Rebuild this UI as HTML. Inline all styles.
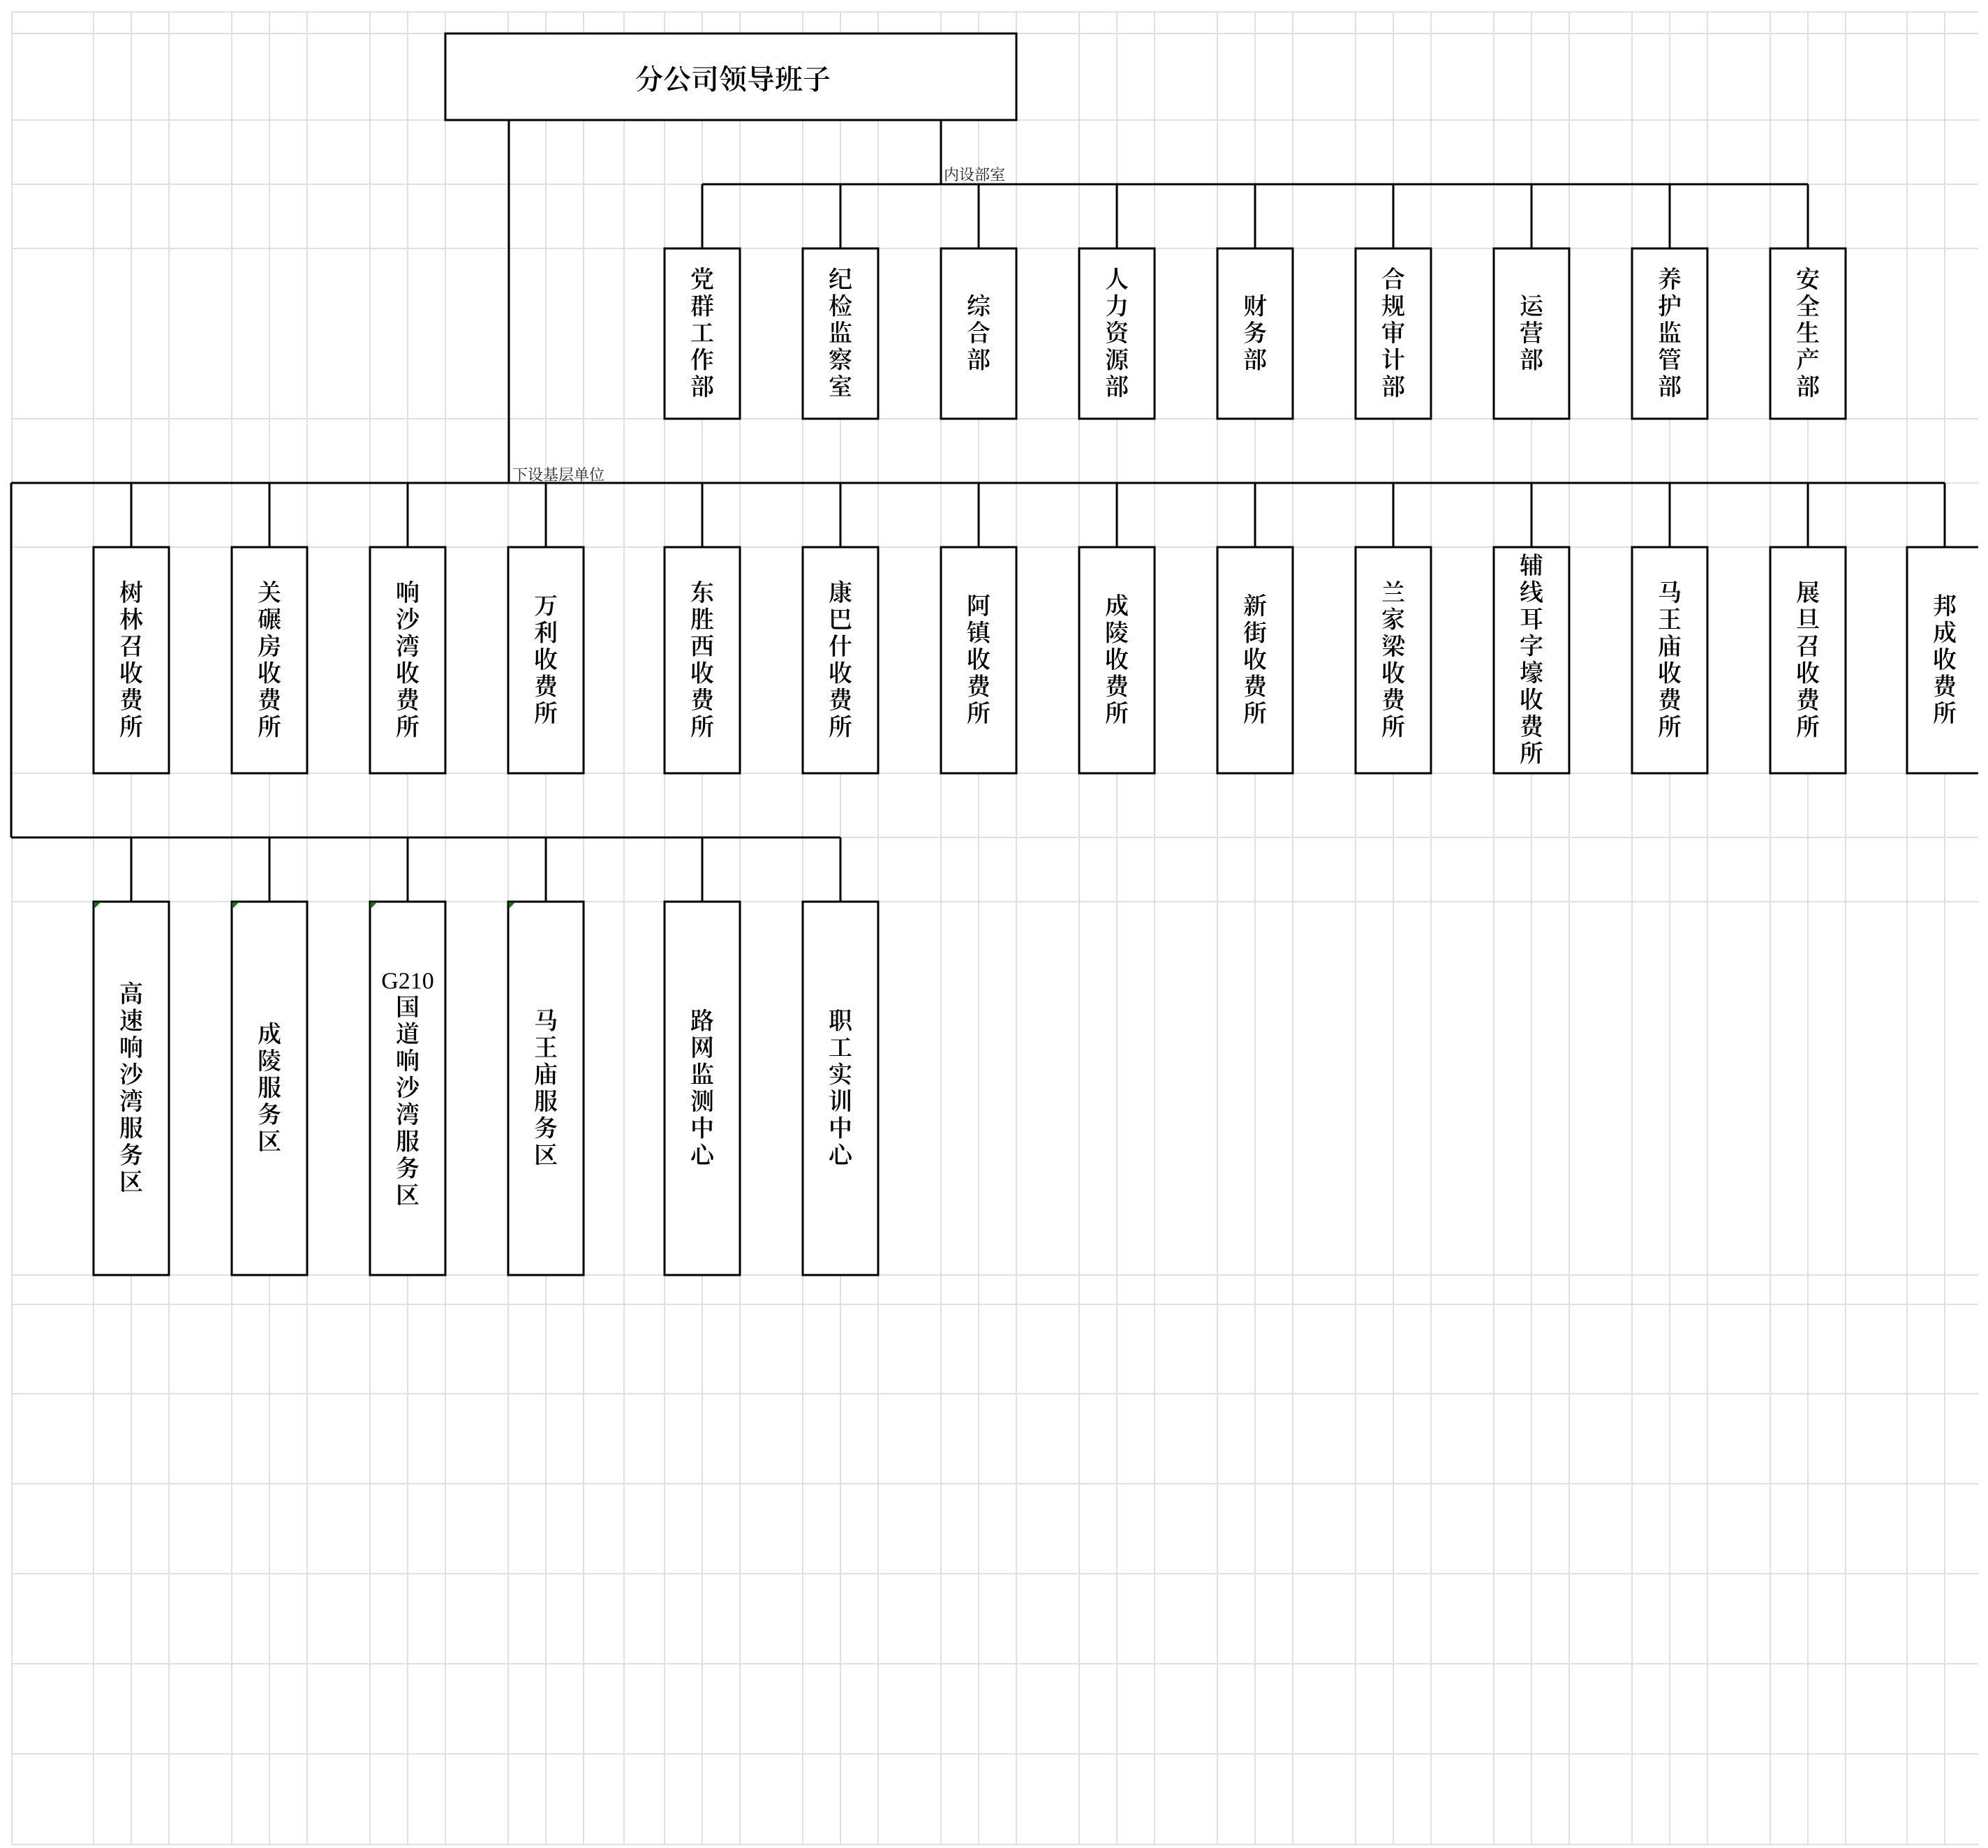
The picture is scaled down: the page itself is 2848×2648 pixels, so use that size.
<!DOCTYPE html>
<html><head><meta charset="utf-8">
<style>
html,body{margin:0;padding:0;background:#fff;}
svg{display:block;}
.t{font-family:"Liberation Serif","Noto Serif CJK SC",serif;font-size:34px;font-weight:600;fill:#000;text-anchor:middle;dominant-baseline:central;}
.s{font-family:"Liberation Serif","Noto Serif CJK SC",serif;font-size:22px;fill:#222;}
.b{fill:#fff;stroke:#000;stroke-width:3;}
.c{stroke:#000;stroke-width:3;fill:none;}
.g{stroke:#e0e0e0;stroke-width:2;}
</style></head><body>
<svg width="2848" height="2648" viewBox="0 0 2848 2648" xmlns="http://www.w3.org/2000/svg">
<defs><clipPath id="cp"><rect x="0" y="0" width="2834" height="2648"/></clipPath></defs>
<g clip-path="url(#cp)">
<g class="g">
<line x1="17" y1="17" x2="2834" y2="17"/><line x1="17" y1="48" x2="2834" y2="48"/><line x1="17" y1="172" x2="2834" y2="172"/><line x1="17" y1="264" x2="2834" y2="264"/><line x1="17" y1="356" x2="2834" y2="356"/><line x1="17" y1="600" x2="2834" y2="600"/><line x1="17" y1="692" x2="2834" y2="692"/><line x1="17" y1="784" x2="2834" y2="784"/><line x1="17" y1="1108" x2="2834" y2="1108"/><line x1="17" y1="1200" x2="2834" y2="1200"/><line x1="17" y1="1292" x2="2834" y2="1292"/><line x1="17" y1="1827" x2="2834" y2="1827"/><line x1="17" y1="1869" x2="2834" y2="1869"/><line x1="17" y1="1997" x2="2834" y2="1997"/><line x1="17" y1="2126" x2="2834" y2="2126"/><line x1="17" y1="2255" x2="2834" y2="2255"/><line x1="17" y1="2384" x2="2834" y2="2384"/><line x1="17" y1="2513" x2="2834" y2="2513"/><line x1="17" y1="2643" x2="2834" y2="2643"/>
</g>
<g class="g">
<line x1="17" y1="17" x2="17" y2="2643"/>
<line x1="134" y1="17" x2="134" y2="2643"/><line x1="188" y1="17" x2="188" y2="2643"/><line x1="242" y1="17" x2="242" y2="2643"/>
<line x1="332" y1="17" x2="332" y2="2643"/><line x1="386" y1="17" x2="386" y2="2643"/><line x1="440" y1="17" x2="440" y2="2643"/>
<line x1="530" y1="17" x2="530" y2="2643"/><line x1="584" y1="17" x2="584" y2="2643"/><line x1="638" y1="17" x2="638" y2="2643"/>
<line x1="728" y1="17" x2="728" y2="2643"/><line x1="782" y1="17" x2="782" y2="2643"/><line x1="836" y1="17" x2="836" y2="2643"/>
<line x1="894" y1="17" x2="894" y2="2643"/>
<line x1="952" y1="17" x2="952" y2="2643"/><line x1="1006" y1="17" x2="1006" y2="2643"/><line x1="1060" y1="17" x2="1060" y2="2643"/>
<line x1="1150" y1="17" x2="1150" y2="2643"/><line x1="1204" y1="17" x2="1204" y2="2643"/><line x1="1258" y1="17" x2="1258" y2="2643"/>
<line x1="1348" y1="17" x2="1348" y2="2643"/><line x1="1402" y1="17" x2="1402" y2="2643"/><line x1="1456" y1="17" x2="1456" y2="2643"/>
<line x1="1546" y1="17" x2="1546" y2="2643"/><line x1="1600" y1="17" x2="1600" y2="2643"/><line x1="1654" y1="17" x2="1654" y2="2643"/>
<line x1="1744" y1="17" x2="1744" y2="2643"/><line x1="1798" y1="17" x2="1798" y2="2643"/><line x1="1852" y1="17" x2="1852" y2="2643"/>
<line x1="1942" y1="17" x2="1942" y2="2643"/><line x1="1996" y1="17" x2="1996" y2="2643"/><line x1="2050" y1="17" x2="2050" y2="2643"/>
<line x1="2140" y1="17" x2="2140" y2="2643"/><line x1="2194" y1="17" x2="2194" y2="2643"/><line x1="2248" y1="17" x2="2248" y2="2643"/>
<line x1="2338" y1="17" x2="2338" y2="2643"/><line x1="2392" y1="17" x2="2392" y2="2643"/><line x1="2446" y1="17" x2="2446" y2="2643"/>
<line x1="2536" y1="17" x2="2536" y2="2643"/><line x1="2590" y1="17" x2="2590" y2="2643"/><line x1="2644" y1="17" x2="2644" y2="2643"/>
<line x1="2732" y1="17" x2="2732" y2="2643"/><line x1="2786" y1="17" x2="2786" y2="2643"/>
</g>

<g class="c">
<line x1="729" y1="172" x2="729" y2="692"/>
<line x1="1348" y1="172" x2="1348" y2="264"/>
<line x1="1006" y1="264" x2="2590" y2="264"/>
<line x1="1006" y1="264" x2="1006" y2="356"/><line x1="1204" y1="264" x2="1204" y2="356"/><line x1="1402" y1="264" x2="1402" y2="356"/><line x1="1600" y1="264" x2="1600" y2="356"/><line x1="1798" y1="264" x2="1798" y2="356"/><line x1="1996" y1="264" x2="1996" y2="356"/><line x1="2194" y1="264" x2="2194" y2="356"/><line x1="2392" y1="264" x2="2392" y2="356"/><line x1="2590" y1="264" x2="2590" y2="356"/>
<line x1="16" y1="692" x2="2786" y2="692"/>
<line x1="188" y1="692" x2="188" y2="784"/><line x1="386" y1="692" x2="386" y2="784"/><line x1="584" y1="692" x2="584" y2="784"/><line x1="782" y1="692" x2="782" y2="784"/>
<line x1="1006" y1="692" x2="1006" y2="784"/><line x1="1204" y1="692" x2="1204" y2="784"/><line x1="1402" y1="692" x2="1402" y2="784"/><line x1="1600" y1="692" x2="1600" y2="784"/><line x1="1798" y1="692" x2="1798" y2="784"/><line x1="1996" y1="692" x2="1996" y2="784"/><line x1="2194" y1="692" x2="2194" y2="784"/><line x1="2392" y1="692" x2="2392" y2="784"/><line x1="2590" y1="692" x2="2590" y2="784"/><line x1="2786" y1="692" x2="2786" y2="784"/>
<line x1="16" y1="692" x2="16" y2="1200"/>
<line x1="16" y1="1200" x2="1204" y2="1200"/>
<line x1="188" y1="1200" x2="188" y2="1292"/><line x1="386" y1="1200" x2="386" y2="1292"/><line x1="584" y1="1200" x2="584" y2="1292"/><line x1="782" y1="1200" x2="782" y2="1292"/><line x1="1006" y1="1200" x2="1006" y2="1292"/><line x1="1204" y1="1200" x2="1204" y2="1292"/>
</g>

<text class="s" x="1352" y="258">内设部室</text>
<text class="s" x="734" y="688">下设基层单位</text>

<rect class="b" x="638" y="48" width="818" height="124"/>
<text class="t" x="1050" y="114" style="font-size:40px">分公司领导班子</text>

<rect class="b" x="952" y="356" width="108" height="244"/>
<text class="t" x="1006" y="401"><tspan x="1006">党</tspan><tspan x="1006" dy="38.5">群</tspan><tspan x="1006" dy="38.5">工</tspan><tspan x="1006" dy="38.5">作</tspan><tspan x="1006" dy="38.5">部</tspan></text>
<rect class="b" x="1150" y="356" width="108" height="244"/>
<text class="t" x="1204" y="401"><tspan x="1204">纪</tspan><tspan x="1204" dy="38.5">检</tspan><tspan x="1204" dy="38.5">监</tspan><tspan x="1204" dy="38.5">察</tspan><tspan x="1204" dy="38.5">室</tspan></text>
<rect class="b" x="1348" y="356" width="108" height="244"/>
<text class="t" x="1402" y="439.5"><tspan x="1402">综</tspan><tspan x="1402" dy="38.5">合</tspan><tspan x="1402" dy="38.5">部</tspan></text>
<rect class="b" x="1546" y="356" width="108" height="244"/>
<text class="t" x="1600" y="401"><tspan x="1600">人</tspan><tspan x="1600" dy="38.5">力</tspan><tspan x="1600" dy="38.5">资</tspan><tspan x="1600" dy="38.5">源</tspan><tspan x="1600" dy="38.5">部</tspan></text>
<rect class="b" x="1744" y="356" width="108" height="244"/>
<text class="t" x="1798" y="439.5"><tspan x="1798">财</tspan><tspan x="1798" dy="38.5">务</tspan><tspan x="1798" dy="38.5">部</tspan></text>
<rect class="b" x="1942" y="356" width="108" height="244"/>
<text class="t" x="1996" y="401"><tspan x="1996">合</tspan><tspan x="1996" dy="38.5">规</tspan><tspan x="1996" dy="38.5">审</tspan><tspan x="1996" dy="38.5">计</tspan><tspan x="1996" dy="38.5">部</tspan></text>
<rect class="b" x="2140" y="356" width="108" height="244"/>
<text class="t" x="2194" y="439.5"><tspan x="2194">运</tspan><tspan x="2194" dy="38.5">营</tspan><tspan x="2194" dy="38.5">部</tspan></text>
<rect class="b" x="2338" y="356" width="108" height="244"/>
<text class="t" x="2392" y="401"><tspan x="2392">养</tspan><tspan x="2392" dy="38.5">护</tspan><tspan x="2392" dy="38.5">监</tspan><tspan x="2392" dy="38.5">管</tspan><tspan x="2392" dy="38.5">部</tspan></text>
<rect class="b" x="2536" y="356" width="108" height="244"/>
<text class="t" x="2590" y="401"><tspan x="2590">安</tspan><tspan x="2590" dy="38.5">全</tspan><tspan x="2590" dy="38.5">生</tspan><tspan x="2590" dy="38.5">产</tspan><tspan x="2590" dy="38.5">部</tspan></text>

<rect class="b" x="134" y="784" width="108" height="324"/>
<text class="t" x="188" y="849.75"><tspan x="188">树</tspan><tspan x="188" dy="38.5">林</tspan><tspan x="188" dy="38.5">召</tspan><tspan x="188" dy="38.5">收</tspan><tspan x="188" dy="38.5">费</tspan><tspan x="188" dy="38.5">所</tspan></text>
<rect class="b" x="332" y="784" width="108" height="324"/>
<text class="t" x="386" y="849.75"><tspan x="386">关</tspan><tspan x="386" dy="38.5">碾</tspan><tspan x="386" dy="38.5">房</tspan><tspan x="386" dy="38.5">收</tspan><tspan x="386" dy="38.5">费</tspan><tspan x="386" dy="38.5">所</tspan></text>
<rect class="b" x="530" y="784" width="108" height="324"/>
<text class="t" x="584" y="849.75"><tspan x="584">响</tspan><tspan x="584" dy="38.5">沙</tspan><tspan x="584" dy="38.5">湾</tspan><tspan x="584" dy="38.5">收</tspan><tspan x="584" dy="38.5">费</tspan><tspan x="584" dy="38.5">所</tspan></text>
<rect class="b" x="728" y="784" width="108" height="324"/>
<text class="t" x="782" y="869"><tspan x="782">万</tspan><tspan x="782" dy="38.5">利</tspan><tspan x="782" dy="38.5">收</tspan><tspan x="782" dy="38.5">费</tspan><tspan x="782" dy="38.5">所</tspan></text>
<rect class="b" x="952" y="784" width="108" height="324"/>
<text class="t" x="1006" y="849.75"><tspan x="1006">东</tspan><tspan x="1006" dy="38.5">胜</tspan><tspan x="1006" dy="38.5">西</tspan><tspan x="1006" dy="38.5">收</tspan><tspan x="1006" dy="38.5">费</tspan><tspan x="1006" dy="38.5">所</tspan></text>
<rect class="b" x="1150" y="784" width="108" height="324"/>
<text class="t" x="1204" y="849.75"><tspan x="1204">康</tspan><tspan x="1204" dy="38.5">巴</tspan><tspan x="1204" dy="38.5">什</tspan><tspan x="1204" dy="38.5">收</tspan><tspan x="1204" dy="38.5">费</tspan><tspan x="1204" dy="38.5">所</tspan></text>
<rect class="b" x="1348" y="784" width="108" height="324"/>
<text class="t" x="1402" y="869"><tspan x="1402">阿</tspan><tspan x="1402" dy="38.5">镇</tspan><tspan x="1402" dy="38.5">收</tspan><tspan x="1402" dy="38.5">费</tspan><tspan x="1402" dy="38.5">所</tspan></text>
<rect class="b" x="1546" y="784" width="108" height="324"/>
<text class="t" x="1600" y="869"><tspan x="1600">成</tspan><tspan x="1600" dy="38.5">陵</tspan><tspan x="1600" dy="38.5">收</tspan><tspan x="1600" dy="38.5">费</tspan><tspan x="1600" dy="38.5">所</tspan></text>
<rect class="b" x="1744" y="784" width="108" height="324"/>
<text class="t" x="1798" y="869"><tspan x="1798">新</tspan><tspan x="1798" dy="38.5">街</tspan><tspan x="1798" dy="38.5">收</tspan><tspan x="1798" dy="38.5">费</tspan><tspan x="1798" dy="38.5">所</tspan></text>
<rect class="b" x="1942" y="784" width="108" height="324"/>
<text class="t" x="1996" y="849.75"><tspan x="1996">兰</tspan><tspan x="1996" dy="38.5">家</tspan><tspan x="1996" dy="38.5">梁</tspan><tspan x="1996" dy="38.5">收</tspan><tspan x="1996" dy="38.5">费</tspan><tspan x="1996" dy="38.5">所</tspan></text>
<rect class="b" x="2140" y="784" width="108" height="324"/>
<text class="t" x="2194" y="811"><tspan x="2194">辅</tspan><tspan x="2194" dy="38.5">线</tspan><tspan x="2194" dy="38.5">耳</tspan><tspan x="2194" dy="38.5">字</tspan><tspan x="2194" dy="38.5">壕</tspan><tspan x="2194" dy="38.5">收</tspan><tspan x="2194" dy="38.5">费</tspan><tspan x="2194" dy="38.5">所</tspan></text>
<rect class="b" x="2338" y="784" width="108" height="324"/>
<text class="t" x="2392" y="849.75"><tspan x="2392">马</tspan><tspan x="2392" dy="38.5">王</tspan><tspan x="2392" dy="38.5">庙</tspan><tspan x="2392" dy="38.5">收</tspan><tspan x="2392" dy="38.5">费</tspan><tspan x="2392" dy="38.5">所</tspan></text>
<rect class="b" x="2536" y="784" width="108" height="324"/>
<text class="t" x="2590" y="849.75"><tspan x="2590">展</tspan><tspan x="2590" dy="38.5">旦</tspan><tspan x="2590" dy="38.5">召</tspan><tspan x="2590" dy="38.5">收</tspan><tspan x="2590" dy="38.5">费</tspan><tspan x="2590" dy="38.5">所</tspan></text>
<rect class="b" x="2732" y="784" width="108" height="324"/>
<text class="t" x="2786" y="869"><tspan x="2786">邦</tspan><tspan x="2786" dy="38.5">成</tspan><tspan x="2786" dy="38.5">收</tspan><tspan x="2786" dy="38.5">费</tspan><tspan x="2786" dy="38.5">所</tspan></text>

<rect class="b" x="134" y="1292" width="108" height="535"/>
<text class="t" x="188" y="1424.75"><tspan x="188">高</tspan><tspan x="188" dy="38.5">速</tspan><tspan x="188" dy="38.5">响</tspan><tspan x="188" dy="38.5">沙</tspan><tspan x="188" dy="38.5">湾</tspan><tspan x="188" dy="38.5">服</tspan><tspan x="188" dy="38.5">务</tspan><tspan x="188" dy="38.5">区</tspan></text>
<rect class="b" x="332" y="1292" width="108" height="535"/>
<text class="t" x="386" y="1482.5"><tspan x="386">成</tspan><tspan x="386" dy="38.5">陵</tspan><tspan x="386" dy="38.5">服</tspan><tspan x="386" dy="38.5">务</tspan><tspan x="386" dy="38.5">区</tspan></text>
<rect class="b" x="530" y="1292" width="108" height="535"/>
<text class="t" x="584" y="1405.5"><tspan x="584" style="font-family:'Liberation Serif',serif;font-size:34px;font-weight:normal">G210</tspan><tspan x="584" dy="38.5">国</tspan><tspan x="584" dy="38.5">道</tspan><tspan x="584" dy="38.5">响</tspan><tspan x="584" dy="38.5">沙</tspan><tspan x="584" dy="38.5">湾</tspan><tspan x="584" dy="38.5">服</tspan><tspan x="584" dy="38.5">务</tspan><tspan x="584" dy="38.5">区</tspan></text>
<rect class="b" x="728" y="1292" width="108" height="535"/>
<text class="t" x="782" y="1463.25"><tspan x="782">马</tspan><tspan x="782" dy="38.5">王</tspan><tspan x="782" dy="38.5">庙</tspan><tspan x="782" dy="38.5">服</tspan><tspan x="782" dy="38.5">务</tspan><tspan x="782" dy="38.5">区</tspan></text>
<rect class="b" x="952" y="1292" width="108" height="535"/>
<text class="t" x="1006" y="1463.25"><tspan x="1006">路</tspan><tspan x="1006" dy="38.5">网</tspan><tspan x="1006" dy="38.5">监</tspan><tspan x="1006" dy="38.5">测</tspan><tspan x="1006" dy="38.5">中</tspan><tspan x="1006" dy="38.5">心</tspan></text>
<rect class="b" x="1150" y="1292" width="108" height="535"/>
<text class="t" x="1204" y="1463.25"><tspan x="1204">职</tspan><tspan x="1204" dy="38.5">工</tspan><tspan x="1204" dy="38.5">实</tspan><tspan x="1204" dy="38.5">训</tspan><tspan x="1204" dy="38.5">中</tspan><tspan x="1204" dy="38.5">心</tspan></text>

<polygon points="135,1293 144,1293 135,1302" fill="#008000"/>
<polygon points="333,1293 342,1293 333,1302" fill="#008000"/>
<polygon points="531,1293 540,1293 531,1302" fill="#008000"/>
<polygon points="729,1293 738,1293 729,1302" fill="#008000"/>
</g>
</svg>
</body></html>
